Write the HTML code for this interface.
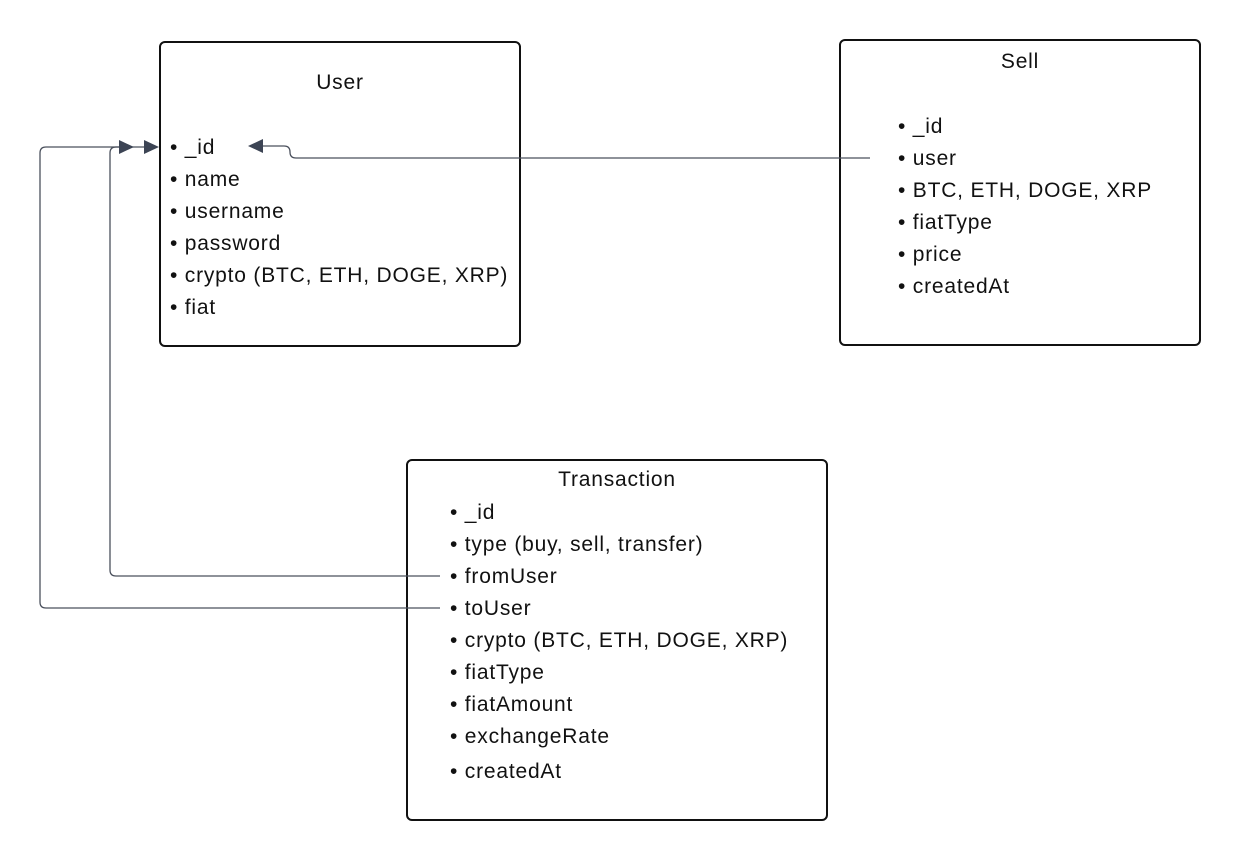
<!DOCTYPE html>
<html><head><style>
body{margin:0;background:#fff;width:1240px;height:860px;overflow:hidden;font-family:"Liberation Sans",sans-serif;}
svg{position:absolute;left:0;top:0}
text{font-family:"Liberation Sans",sans-serif;font-size:21px;letter-spacing:0.8px;fill:#111}
</style></head><body>
<svg width="1240" height="860">
<g fill="none" stroke="#111" stroke-width="2">
<rect x="160" y="42" width="360" height="304" rx="5"/>
<rect x="840" y="40" width="360" height="305" rx="5"/>
<rect x="407" y="460" width="420" height="360" rx="5"/>
</g>
<g fill="none" stroke="#4a505c" stroke-width="1.3">
<path d="M440 608 H46 Q40 608 40 602 V153 Q40 147 46 147 H124"/>
<path d="M440 576 H116 Q110 576 110 570 V153 Q110 147 116 147 H148"/>
<path d="M870 158 H296 Q290 158 290 152 Q290 146 284 146 H260"/>
</g>
<g fill="#3c4454">
<polygon points="119,140 134,147 119,154"/>
<polygon points="144,140 159,147 144,154"/>
<polygon points="263,139 248,146 263,153"/>
</g>
<text x="340" y="89" text-anchor="middle">User</text>
<g>
<text x="170" y="154">• _id</text>
<text x="170" y="186">• name</text>
<text x="170" y="218">• username</text>
<text x="170" y="250">• password</text>
<text x="170" y="282">• crypto (BTC, ETH, DOGE, XRP)</text>
<text x="170" y="314">• fiat</text>
</g>
<text x="1020" y="68" text-anchor="middle">Sell</text>
<g>
<text x="898" y="133">• _id</text>
<text x="898" y="165">• user</text>
<text x="898" y="197">• BTC, ETH, DOGE, XRP</text>
<text x="898" y="229">• fiatType</text>
<text x="898" y="261">• price</text>
<text x="898" y="293">• createdAt</text>
</g>
<text x="617" y="486" text-anchor="middle">Transaction</text>
<g>
<text x="450" y="519">• _id</text>
<text x="450" y="551">• type (buy, sell, transfer)</text>
<text x="450" y="583">• fromUser</text>
<text x="450" y="615">• toUser</text>
<text x="450" y="647">• crypto (BTC, ETH, DOGE, XRP)</text>
<text x="450" y="679">• fiatType</text>
<text x="450" y="711">• fiatAmount</text>
<text x="450" y="743">• exchangeRate</text>
<text x="450" y="778">• createdAt</text>
</g>
</svg>
</body></html>
